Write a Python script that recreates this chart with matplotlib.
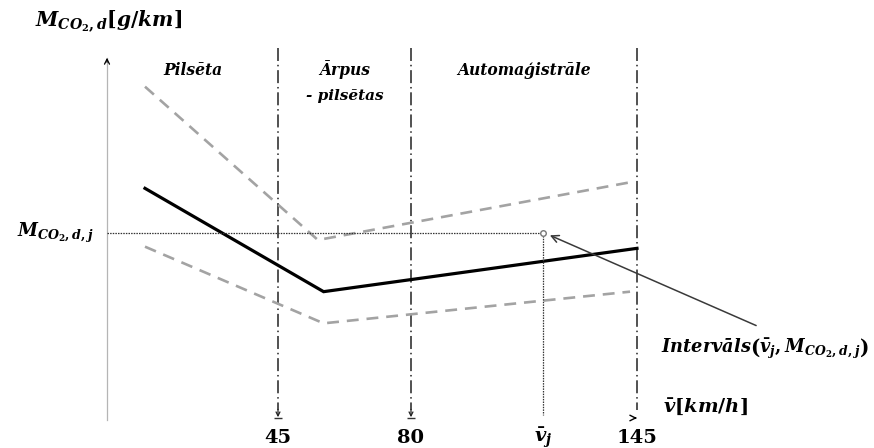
import numpy as np
import matplotlib.pyplot as plt

plt.rcParams['font.family'] = ['DejaVu Serif']
plt.rcParams['mathtext.fontset'] = 'custom'
plt.rcParams['mathtext.it'] = 'DejaVu Serif:bold:italic'
plt.rcParams['mathtext.rm'] = 'DejaVu Serif:bold'
plt.rcParams['mathtext.bf'] = 'DejaVu Serif:bold'

# zone borders on the speed axis (km/h) and zone names
zone_edges = [0, 45, 80, 145]
zone_names = ['Pilsēta', 'Ārpus', 'Automaģistrāle']
tick_speeds = [45, 80, 145]
tick_labels = ['45', '80', '145']

# schematic CO2 curves: speed (km/h) vs emission (g/km, arbitrary scale)
curve_speed = [10, 57, 145]
mean_co2 = [139, 77, 103]
upper_speed = [10, 55.5, 144]
upper_co2 = [200, 108, 143]
lower_speed = [10, 57, 143]
lower_co2 = [104, 58, 77]

# interval point
v_j = 118
m_j = 112
arrow_from = (180, 56)

# the sketch has uneven spacing between 45, 80 and 145
knot_speed = np.array([-60, 0, 45, 80, 145, 260])
knot_px = np.array([107 - 60 * 3.8, 107, 278, 411, 637, 637 + 115 * 3.477])


def fwd(s):
    return np.interp(s, knot_speed, knot_px)


def inv(p):
    return np.interp(p, knot_px, knot_speed)


W, H = 874, 448
fig = plt.figure(figsize=(W / 100, H / 100), dpi=100)
ax = fig.add_axes([0, 0, 1, 1])
ax.set_xscale('function', functions=(fwd, inv))
ax.set_xlim(inv(0), inv(W))
ax.set_ylim(-16.8, 252)
ax.axis('off')

y_top = 223

# y axis
ax.plot([0, 0], [0, 217], color='#b5b5b5', lw=0.9)
ax.annotate('', xy=(0, 219), xytext=(0, 213),
            arrowprops=dict(arrowstyle='->', color='black', lw=0.9,
                            mutation_scale=9))

# zone borders
for s in tick_speeds:
    ln, = ax.plot([s, s], [y_top, 6], color='#222222', lw=1.1)
    ln.set_dashes([8.5, 2.5, 1, 2.5])
for s in tick_speeds[:2]:
    ax.annotate('', xy=(s, 0), xytext=(s, 8),
                arrowprops=dict(arrowstyle='->', color='#222222', lw=0.9,
                                mutation_scale=7))
    ax.plot([s], [1.2], marker='_', color='#333333', ms=6, mew=1.0)
ax.annotate('', xy=(145, 1.2), xytext=(143.5, 1.2),
            arrowprops=dict(arrowstyle='->', color='black', lw=1.0,
                            mutation_scale=10))

# curves
for xs, ys in [(upper_speed, upper_co2), (lower_speed, lower_co2)]:
    ln, = ax.plot(xs, ys, color='#a3a3a3', lw=1.9)
    ln.set_dashes([4.5, 3])
ax.plot(curve_speed, mean_co2, color='black', lw=2.3, solid_joinstyle='miter')

# interval guides
ax.plot([0, v_j], [m_j, m_j], color='#333333', lw=0.9, ls=(0, (1.2, 0.9)))
ax.plot([v_j, v_j], [m_j, 3], color='#333333', lw=0.9, ls=(0, (1.2, 0.9)))
ax.plot([v_j], [m_j], marker='o', ms=4, mfc='white', mec='#777777', mew=1.0)
ax.annotate('', xy=(v_j + 1.2, m_j - 0.5), xytext=arrow_from,
            arrowprops=dict(arrowstyle='->', color='#3a3a3a', lw=1.1,
                            mutation_scale=13))

# zone names
for i, name in enumerate(zone_names):
    mid = (zone_edges[i] + zone_edges[i + 1]) / 2
    ax.text(mid, 210, name, ha='center', va='center', fontsize=11.2,
            fontweight='bold', style='italic')
ax.text((zone_edges[1] + zone_edges[2]) / 2, 194.5, '- pilsētas',
        ha='center', va='center', fontsize=11, fontweight='bold',
        style='italic')

# tick labels
for s, lab in zip(tick_speeds, tick_labels):
    ax.text(s, -10.5, lab, ha='center', va='center', fontsize=14,
            fontweight='bold')
ax.text(v_j, -10.5, r'$\bar{v}_j$', ha='center', va='center', fontsize=14)

# axis titles
fig.text(35 / W, 1 - 22 / H, r'$M_{CO_2,d}\mathrm{[}g/km\mathrm{]}$',
         ha='left', va='center', fontsize=14.5)
ax.text(inv(94), m_j, r'$M_{CO_2,d,j}$', ha='right', va='center', fontsize=13)
fig.text(663 / W, 1 - 407 / H, r'$\bar{v}\mathrm{[}km/h\mathrm{]}$',
         ha='left', va='center', fontsize=14)
fig.text(661 / W, 1 - 349 / H,
         r'Intervāls$\left(\bar{v}_j, M_{CO_2,d,j}\right)$',
         ha='left', va='center', fontsize=12.8, style='italic', fontweight='bold')

fig.savefig('out.png', dpi=100)
